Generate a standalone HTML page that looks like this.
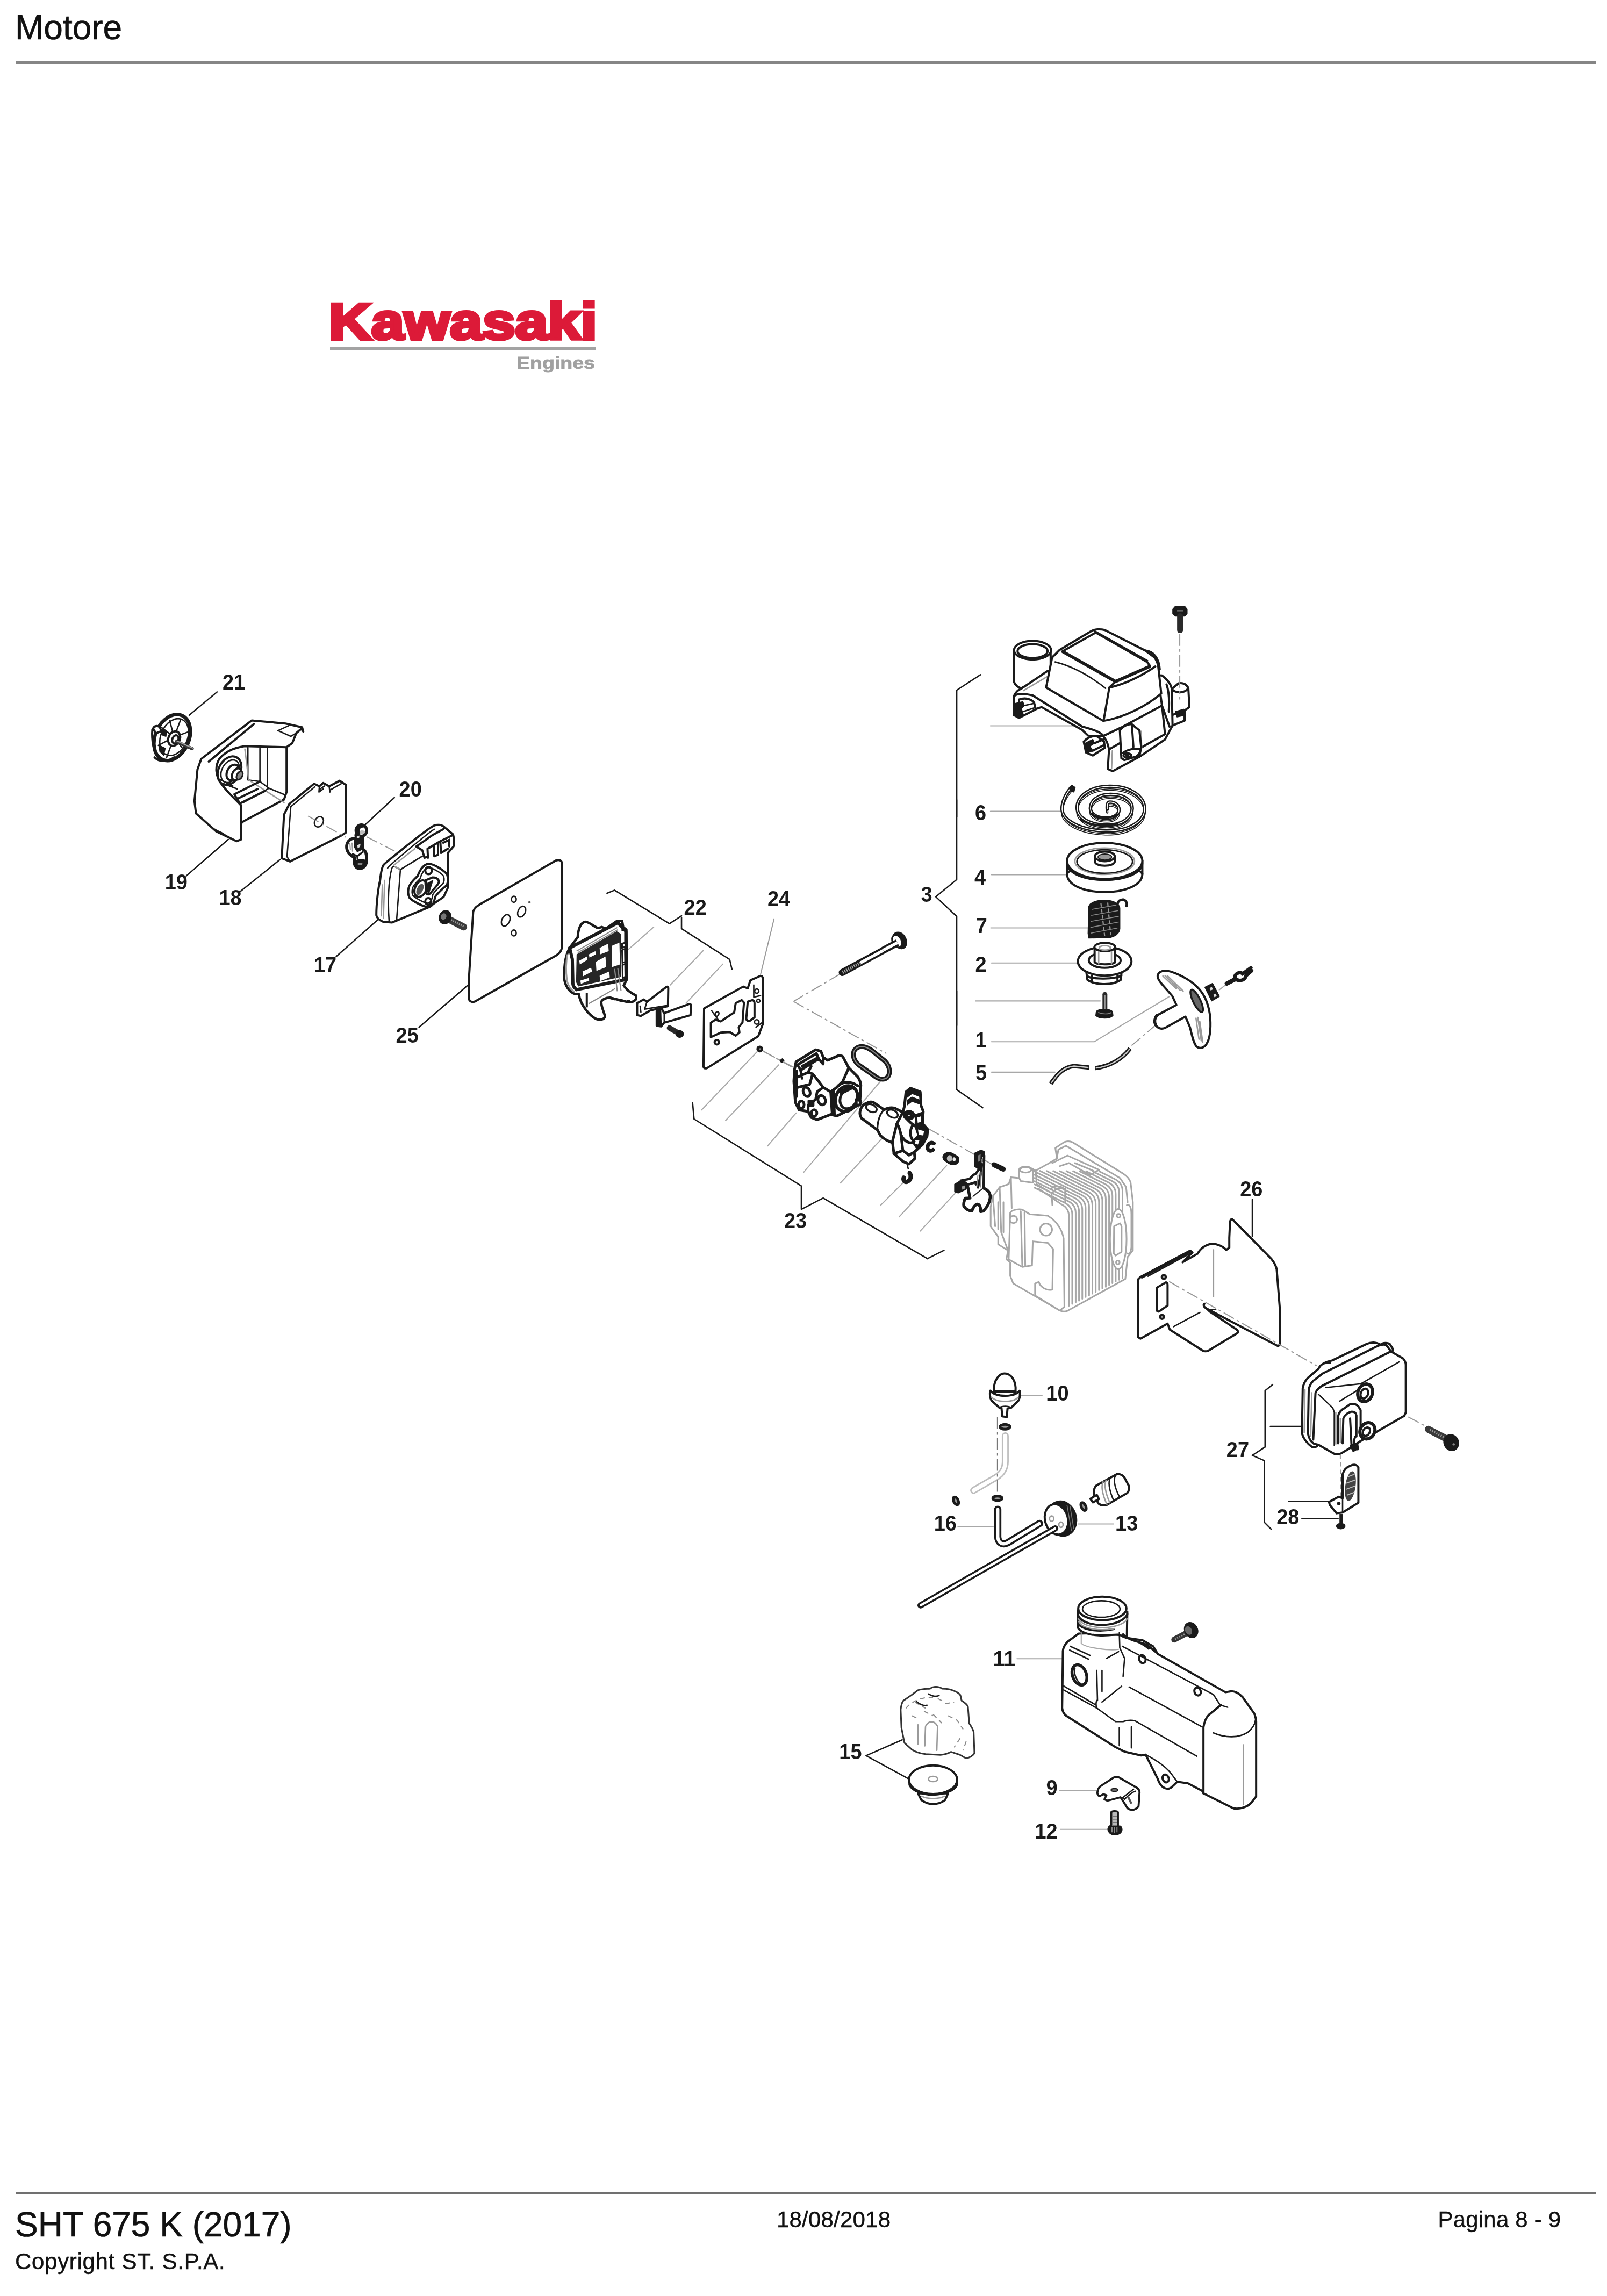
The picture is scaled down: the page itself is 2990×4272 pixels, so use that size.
<!DOCTYPE html>
<html><head><meta charset="utf-8">
<style>
html,body{margin:0;padding:0;background:#fff;}
body{width:2990px;height:4272px;position:relative;overflow:hidden;font-family:"Liberation Sans",sans-serif;color:#111;}
.t{position:absolute;white-space:nowrap;line-height:1;filter:blur(0.5px);}
svg{position:absolute;left:0;top:0;filter:blur(0.7px);}
svg text{font-family:"Liberation Sans",sans-serif;}
.k,.kf,.n,.g,.gl,.d,.b,.w{vector-effect:non-scaling-stroke;}
.k{fill:none;stroke:#1a1a1a;stroke-width:4;stroke-linecap:round;stroke-linejoin:round;}
.kf{fill:#fff;stroke:#1a1a1a;stroke-width:4;stroke-linecap:round;stroke-linejoin:round;}
.n{fill:none;stroke:#1a1a1a;stroke-width:2.6;stroke-linecap:round;stroke-linejoin:round;}
.g{fill:none;stroke:#9a9a9a;stroke-width:2.6;stroke-linecap:round;stroke-linejoin:round;}
.gl{fill:none;stroke:#a8a8a8;stroke-width:2.1;stroke-linecap:round;stroke-linejoin:round;}
.d{fill:none;stroke:#979797;stroke-width:2;stroke-dasharray:22 6 5 6;}
.hv .k,.hv .kf{stroke-width:5;}.hv .n{stroke-width:3.4;}
.b{fill:#1a1a1a;stroke:#1a1a1a;stroke-width:2;stroke-linejoin:round;}
.lb{font-size:40px;font-weight:bold;fill:#1a1a1a;}
</style></head><body>
<div class="t" style="left:28px;top:19px;font-size:64px;-webkit-text-stroke:0.7px #111;">Motore</div>
<div style="position:absolute;left:29px;top:114px;width:2939.5px;height:5px;background:#858585;"></div>
<div style="position:absolute;left:29px;top:4079.2px;width:2939.5px;height:2.6px;background:#707070;"></div>
<div class="t" style="left:28px;top:4107px;font-size:64px;-webkit-text-stroke:0.7px #111;">SHT 675 K (2017)</div>
<div class="t" style="left:28px;top:4187px;font-size:42px;letter-spacing:0.7px;-webkit-text-stroke:0.5px #111;">Copyright ST. S.P.A.</div>
<div class="t" style="left:1445px;top:4109.2px;font-size:42px;letter-spacing:0.2px;-webkit-text-stroke:0.5px #111;">18/08/2018</div>
<div class="t" style="left:2675.5px;top:4109px;font-size:42px;letter-spacing:0.2px;-webkit-text-stroke:0.5px #111;">Pagina 8 - 9</div>
<svg width="2990" height="4272" viewBox="0 0 2990 4272">
<!--LOGO-->
<g>
<text x="612" y="631" font-size="94" font-weight="bold" fill="#dc1a38" stroke="#dc1a38" stroke-width="6" stroke-linejoin="miter" textLength="499" lengthAdjust="spacingAndGlyphs">Kawasaki</text>
<rect x="614" y="646" width="494" height="6" fill="#a3a3a3"/>
<text x="961" y="685.5" font-size="31.5" font-weight="bold" fill="#a0a0a0" stroke="#a0a0a0" stroke-width="0.8" textLength="146" lengthAdjust="spacingAndGlyphs">Engines</text>
</g>
<!--G1-->
<g transform="translate(240 1230) scale(0.28003)">
<!-- 21 leader -->
<path class="n" d="M585 205 L400 360"/>
<!-- 21 knob -->
<ellipse cx="287" cy="508" rx="112" ry="160" transform="rotate(24 287 508)" fill="#fff" stroke="#1a1a1a" stroke-width="6.5" vector-effect="non-scaling-stroke"/>
<path class="k" d="M155 455 C150 520 160 600 200 650 M170 640 C200 670 250 675 300 640"/>
<ellipse cx="300" cy="505" rx="88" ry="128" transform="rotate(24 300 505)" class="n"/>
<path class="n" d="M300 505 L345 385 M300 505 L395 470 M300 505 L370 600 M300 505 L250 640 M300 505 L195 560 M300 505 L215 440 M300 505 L270 395"/>
<path class="b" d="M215 455 L250 470 L245 500 L220 490 Z M200 560 L240 580 L230 625 L205 600 Z"/>
<ellipse cx="300" cy="515" rx="38" ry="50" transform="rotate(24 300 515)" class="kf"/>
<ellipse cx="308" cy="520" rx="20" ry="28" transform="rotate(24 308 520)" class="kf"/>
<path d="M315 535 L420 582" stroke="#333" stroke-width="6" stroke-linecap="round" fill="none" vector-effect="non-scaling-stroke"/>
<path d="M318 531 L422 578" stroke="#aaa" stroke-width="2" stroke-linecap="round" fill="none" vector-effect="non-scaling-stroke"/>
<path class="kf" d="M160 450 C165 430 190 425 205 440 L215 465 L180 480 Z"/>
<!-- 19 cover -->
<path class="kf" d="M480 650 L815 395 L1040 415 L1150 440 L1158 468 L1145 450 L1112 478 L1085 545 L1047 572 L1047 870 L1030 920 L760 1065 L745 1078 L745 1185 L715 1197 L640 1160 L580 1132 L445 1012 L435 930 L455 720 Z"/>
<path class="k" d="M1047 572 L770 565 C700 575 640 600 600 650 C570 700 575 760 610 810 C650 870 710 920 745 960 L745 1078"/>
<path class="k" d="M530 668 L830 418"/>
<path class="n" d="M990 462 L1060 430 M990 462 L1075 500 M1075 500 L1112 478"/>
<path class="k" d="M570 1120 C590 1135 620 1140 640 1160"/>
<path class="n" d="M790 575 L790 790 M870 580 L870 800 M920 580 L920 830 M790 790 L870 800 L930 845 L1040 890"/>
<path class="g" d="M770 585 L795 790 M795 790 L1030 940"/>
<path class="k" d="M700 885 L870 800 M720 915 L855 850 M740 945 L905 862 M700 885 L745 960"/>
<path class="n" d="M930 845 L760 940"/>
<ellipse cx="668" cy="728" rx="72" ry="100" transform="rotate(28 668 728)" class="k"/>
<ellipse cx="672" cy="732" rx="55" ry="80" transform="rotate(28 672 732)" class="n"/>
<ellipse cx="690" cy="740" rx="38" ry="55" transform="rotate(28 690 740)" class="k"/>
<ellipse cx="715" cy="752" rx="28" ry="42" transform="rotate(28 715 752)" class="kf"/>
<ellipse cx="735" cy="760" rx="18" ry="30" transform="rotate(28 735 760)" fill="#888" stroke="#1a1a1a" stroke-width="3" vector-effect="non-scaling-stroke"/>
<path class="n" d="M610 790 L690 830 M630 815 L720 850"/>
<!-- 19 leader -->
<path class="n" d="M660 1185 L380 1428"/>
<!-- 18 filter -->
<path class="kf" d="M1065 950 L1230 815 L1265 832 L1290 810 L1330 832 L1400 795 L1440 822 L1440 1140 L1410 1160 L1070 1332 L1015 1310 L1030 1020 Z"/>
<path class="n" d="M1075 968 L1050 1300 L1070 1332 M1075 968 L1235 835 M1270 850 L1300 830 M1340 855 L1410 815 M1265 832 L1262 870 L1290 850 M1330 832 L1335 870"/>
<ellipse cx="1262" cy="1068" rx="28" ry="36" transform="rotate(30 1262 1068)" class="n"/>
<path class="d" d="M1190 1030 L1440 1170" />
<path class="n" d="M1005 1318 L737 1533"/>
</g>
<g transform="translate(640 1400) scale(0.28003)">
<!-- 20 leader -->
<path class="n" d="M335 300 L130 490"/>
<path class="d" d="M150 560 L335 655"/>
<!-- 20 clip -->
<g transform="translate(0 357.1) scale(0.35553)">
<path d="M215 600 C100 600 40 680 50 780 C60 880 150 940 200 960 L195 1040 C190 1120 240 1170 300 1165 C380 1160 430 1080 420 1000 C430 900 400 830 350 800 L350 600 Z" fill="#fff" stroke="#1a1a1a" stroke-width="5.5" stroke-linejoin="round" vector-effect="non-scaling-stroke"/>
<ellipse cx="325" cy="455" rx="100" ry="105" fill="#fff" stroke="#1a1a1a" stroke-width="5.5" vector-effect="non-scaling-stroke"/>
<path class="b" d="M235 420 C250 370 330 340 400 390 C360 380 300 390 280 440 L290 520 L240 560 L215 620 L205 540 Z"/>
<path d="M290 470 C320 440 380 450 400 480 C390 520 340 540 300 520 Z" fill="#bbb"/>
<path class="b" d="M200 630 L345 600 L350 800 L250 850 L200 770 Z"/>
<path d="M250 730 L310 700 L300 760 L255 785 Z M240 560 L290 550 L285 590 L240 600 Z" fill="#ddd"/>
<path d="M110 690 L120 820 M150 680 L160 850" stroke="#999" stroke-width="2" fill="none" vector-effect="non-scaling-stroke"/>
<path d="M150 890 L250 935 L360 850 M250 935 L255 1000" fill="none" stroke="#1a1a1a" stroke-width="3.5" vector-effect="non-scaling-stroke"/>
<path class="b" d="M215 1040 C230 1000 330 980 395 1010 C410 1090 370 1150 300 1155 C240 1150 205 1100 215 1040 Z"/>
<path d="M250 1080 C270 1050 330 1050 350 1075 C340 1110 280 1120 250 1080 Z" fill="#888"/>
</g>
<!-- 17 air box -->
<path class="kf" d="M265 745 C280 730 560 500 600 485 C620 478 645 480 660 490 L725 545 C732 570 732 600 728 625 L690 668 L690 900 L662 960 L560 1030 L320 1130 L262 1126 C235 1115 218 1100 215 1082 C215 1000 228 900 240 850 C245 800 252 760 265 745 Z"/>
<path class="n" d="M290 768 C300 750 570 525 600 510 M300 1122 C290 1000 295 850 318 770 C322 760 330 755 340 760 L375 778 L350 1110"/>
<path class="g" d="M255 880 L248 1085 M270 850 L262 1100"/>
<path class="g" d="M340 760 L375 778 L520 690 M330 750 L470 640"/>
<path class="n" d="M375 778 L520 690"/>
<path class="k" d="M480 625 L590 548 L660 510 M480 625 L520 650 L535 700 L560 690 M555 640 L640 590 L725 548 M555 640 L558 700 M598 618 L600 690 L625 680 L625 605 M640 590 L645 668 L690 640 M660 600 L700 580 L700 625"/>
<path class="k" d="M430 900 C435 870 470 840 490 820 C505 780 525 745 560 740 C600 738 670 790 685 810 C695 840 692 870 680 885 C650 910 620 940 605 960 C600 1000 585 1025 560 1028 C530 1028 450 985 435 965 C425 945 425 920 430 900 Z"/>
<path class="n" d="M455 905 C460 880 490 855 505 840 C515 805 535 770 562 765 C590 765 650 805 662 822 C668 845 665 865 655 875 C630 898 600 925 590 945 C585 980 575 1000 558 1002 C535 1002 470 965 458 950 C450 935 452 918 455 905 Z"/>
<ellipse cx="562" cy="785" rx="22" ry="24" class="k"/>
<ellipse cx="560" cy="990" rx="20" ry="22" class="k"/>
<ellipse cx="510" cy="905" rx="38" ry="58" transform="rotate(25 510 905)" class="k"/>
<ellipse cx="505" cy="910" rx="20" ry="40" transform="rotate(25 505 910)" fill="#555"/>
<path class="k" d="M540 850 L590 830 C620 830 640 850 625 875 L575 935 C560 950 540 945 545 920 Z"/>
<path class="b" d="M560 870 L590 850 L565 930 L550 925 Z"/>
<!-- screw -->
<path d="M690 1105 L795 1160" stroke="#3a3a3a" stroke-width="13" stroke-linecap="round" fill="none" vector-effect="non-scaling-stroke"/>
<path d="M700 1106 L795 1156" stroke="#999" stroke-width="3" stroke-dasharray="2 2" fill="none" vector-effect="non-scaling-stroke"/>
<ellipse cx="672" cy="1095" rx="38" ry="45" transform="rotate(20 672 1095)" class="b"/>
<ellipse cx="662" cy="1090" rx="18" ry="22" transform="rotate(20 662 1090)" fill="#777"/>
<!-- 17 leader -->
<path class="n" d="M225 1112 L-51 1355"/>
</g>
<!-- plate 25 -->
<g transform="translate(200 1200) scale(0.56005)">
<path class="kf" d="M1215 885 C1220 872 1228 868 1240 860 L1490 716 C1502 712 1510 716 1510 728 L1510 1000 C1510 1015 1502 1025 1490 1032 L1222 1184 C1208 1190 1200 1182 1200 1170 L1200 1120 Z"/>
<ellipse cx="1350" cy="845" rx="8" ry="10" class="n"/>
<ellipse cx="1376" cy="886" rx="12" ry="19" transform="rotate(25 1376 886)" class="n"/>
<ellipse cx="1323" cy="915" rx="13" ry="20" transform="rotate(25 1323 915)" class="n"/>
<ellipse cx="1350" cy="957" rx="8" ry="10" class="n"/>
<circle cx="1402" cy="855" r="4" fill="#555"/>
<path class="n" d="M1200 1128 L1035 1270"/>
</g>
<g transform="translate(1030 1620) scale(0.28003)">
<!-- bracket 22 -->
<path class="n" d="M355 150 L405 130 L770 352 L850 300 M850 310 L850 385 L1170 590 L1185 655"/>
<path class="gl" d="M665 375 L495 525 M995 530 L775 760 M1125 620 L880 880"/>
<path class="g" d="M1465 320 L1375 690" style="stroke-width:2"/>
<g transform="translate(35.7 285.7) scale(0.35553)"><!-- reed body -->
<path d="M350 440 C360 300 400 170 490 150 C560 150 650 240 730 270 L800 250 L880 280 L1080 140 L1180 135 L1200 250 L1260 300 L1270 1230 L1210 1340 C1260 1430 1380 1500 1440 1530 L1440 1600 C1400 1650 1330 1660 1280 1650 L950 1570 C880 1570 810 1600 790 1650 C790 1750 850 1850 860 1920 C840 1990 760 1990 700 1970 C560 1900 400 1700 370 1500 L300 1500 C230 1480 130 1400 100 1230 C90 1000 110 800 200 640 Z" fill="#fff" stroke="#1a1a1a" stroke-width="4.6" stroke-linejoin="round" vector-effect="non-scaling-stroke"/>
<path d="M200 640 L1100 170 L1180 250 L1250 330 L1250 1230 L330 1420 C280 1380 260 1340 260 1300 L250 850 Z" fill="#fff" stroke="#1a1a1a" stroke-width="6" stroke-linejoin="round" vector-effect="non-scaling-stroke"/>
<path d="M160 760 C130 900 130 1100 150 1250 C170 1350 230 1430 290 1460" fill="none" stroke="#999" stroke-width="3" vector-effect="non-scaling-stroke"/>
<path d="M330 760 L1080 330 L1160 380 L1165 1180 L360 1360 L320 1280 Z" fill="#262626"/>
<path d="M330 700 L1090 260 M350 730 L1100 300" fill="none" stroke="#888" stroke-width="2" vector-effect="non-scaling-stroke"/>
<path d="M760 640 L920 560 L930 700 L770 760 Z M990 600 L1130 540 L1140 950 L990 1000 Z M690 900 L870 800 L880 1000 L700 1070 Z M440 1080 L600 1010 L620 1080 L450 1170 Z M760 1160 L940 1080 L950 1190 L770 1260 Z M380 880 L520 800 L530 860 L390 950 Z M560 760 L680 700 L690 760 L570 820 Z M400 1250 L560 1200 L565 1250 L410 1310 Z" fill="#fff"/>
<path d="M1180 560 L1240 540 L1240 620 L1180 640 Z M1180 680 L1232 660 L1236 900 L1186 920 Z M1186 960 L1236 940 L1240 1180 L1190 1200 Z" fill="#fff" stroke="#1a1a1a" stroke-width="3" vector-effect="non-scaling-stroke"/>
<path d="M520 1480 L520 1750 M1180 135 L1190 330" fill="none" stroke="#1a1a1a" stroke-width="4" vector-effect="non-scaling-stroke"/>
<path d="M560 1680 L1050 1400 M1040 1030 L1090 1450 M1100 1020 L1160 1440" fill="none" stroke="#888" stroke-width="2.2" vector-effect="non-scaling-stroke"/>
<path d="M950 1570 C1050 1600 1250 1650 1330 1640" fill="none" stroke="#1a1a1a" stroke-width="5" stroke-dasharray="10 6" vector-effect="non-scaling-stroke"/>
</g><!-- petals -->
<path class="kf" d="M555 880 L600 855 L620 872 L750 772 C758 768 762 772 762 780 L760 900 L640 930 L580 965 L555 960 Z"/>
<path class="n" d="M575 900 L580 940 M620 872 L605 920 L760 895"/>
<path class="kf" d="M685 930 L720 920 L735 947 L900 886 C908 884 912 888 912 895 L910 960 L735 1010 L715 1035 L685 1030 Z"/>
<path class="b" d="M685 930 L712 925 L715 1035 L685 1030 Z"/>
<path class="n" d="M735 947 L735 1010"/>
<!-- screw -->
<path d="M770 1045 L835 1082" stroke="#2a2a2a" stroke-width="10" stroke-linecap="round" fill="none" vector-effect="non-scaling-stroke"/>
<ellipse cx="838" cy="1085" rx="24" ry="22" class="b"/>
<!-- gasket 24 -->
<path class="kf" d="M1000 915 L1260 770 L1290 782 L1308 728 L1372 700 C1385 698 1390 705 1390 718 L1390 1020 L1360 1100 L1022 1310 C1005 1318 996 1312 996 1298 Z"/>
<path class="k" d="M1045 1010 L1075 990 L1110 1002 L1200 942 L1210 880 L1250 860 L1265 876 L1255 1010 L1230 1040 L1235 1075 L1210 1096 L1170 1072 L1110 1076 L1045 1106 Z"/>
<path class="k" d="M1290 870 L1320 860 C1330 862 1335 870 1335 880 L1335 975 L1300 1000 C1288 998 1282 992 1280 985 Z"/>
<path class="n" d="M1330 760 L1330 840 L1375 830 M1345 1040 L1385 1010"/>
<circle cx="1350" cy="800" r="14" class="n"/><circle cx="1360" cy="865" r="11" class="n"/><circle cx="1350" cy="1005" r="15" class="n"/><circle cx="1085" cy="1140" r="15" class="k"/>
<path class="n" d="M1050 930 L1100 1000 M1075 945 C1090 930 1105 940 1095 960 C1085 975 1070 965 1075 945"/>
<!-- nut + small -->
<circle cx="1370" cy="1185" r="19" class="b"/><circle cx="1372" cy="1186" r="7" fill="#888"/>
<path class="gl" d="M1350 1205 L983 1590"/>
<path class="d" d="M1392 1198 L1607 1318"/>
<path class="b" d="M1505 1262 L1520 1250 L1530 1262 L1515 1275 Z"/>
</g>
<g transform="translate(1400 1900) scale(0.28003)">
<path class="gl" d="M290 610 L100 830 M850 400 L340 1005 M860 780 L585 1075 M1000 1075 L850 1225 M1290 960 L975 1300 M1345 1145 L1115 1395 M175 290 L-178 660"/>
<path class="d" d="M80 205 L285 312"/>
<path class="d" d="M273 -131 L890 215"/>
<path class="d" d="M1170 715 L1607 960"/>
<!-- bracket 23 -->
<path class="n" d="M-398 540 L-388 650 L325 1095 L325 1250 L470 1175 L1163 1578"/>
<!-- oring -->
<path d="M690 180 C720 160 760 168 800 200 L880 265 C915 300 920 350 895 375 C870 395 835 385 805 360 L705 290 C665 255 660 205 690 180 Z" fill="none" stroke="#1a1a1a" stroke-width="9" vector-effect="non-scaling-stroke"/>
<path d="M690 180 C720 160 760 168 800 200 L880 265 C915 300 920 350 895 375 C870 395 835 385 805 360 L705 290 C665 255 660 205 690 180 Z" fill="none" stroke="#888" stroke-width="2" vector-effect="non-scaling-stroke"/>
<g class="hv"><!-- carb body -->
<path class="kf" d="M280 320 L290 270 L420 190 L455 200 L470 240 L500 260 L570 230 C585 228 595 230 600 235 L640 310 L700 370 C715 395 722 415 720 430 L715 520 L700 560 L560 630 L520 620 L430 655 L390 640 L370 600 L310 590 L285 540 L275 400 Z"/>
<path class="k" d="M300 290 L425 215 L440 250 L320 325 L300 290 M320 325 L330 380 M440 250 L470 285 L470 240 M330 300 L430 245 M280 380 L370 340 L400 350 L440 400 L470 440 L520 470 L530 610 M370 340 L390 300 M400 350 L380 420 L300 440 M470 440 L430 470 L420 520 L370 560 L370 600 M520 470 L560 440 L600 400 L640 310"/>
<path class="b" d="M285 330 L300 325 L300 500 L285 520 Z M520 470 L545 460 L550 620 L525 615 Z"/>
<ellipse cx="360" cy="470" rx="22" ry="32" transform="rotate(-20 360 470)" class="k"/>
<ellipse cx="460" cy="525" rx="24" ry="32" transform="rotate(-20 460 525)" class="k"/>
<ellipse cx="325" cy="555" rx="18" ry="25" class="k"/>
<ellipse cx="410" cy="610" rx="18" ry="22" class="k"/>
<rect x="375" y="530" width="28" height="30" class="k"/>
<ellipse cx="625" cy="515" rx="72" ry="88" transform="rotate(25 625 515)" fill="#fff" stroke="#1a1a1a" stroke-width="6" vector-effect="non-scaling-stroke"/>
<ellipse cx="640" cy="512" rx="55" ry="72" transform="rotate(25 640 512)" class="k"/>
<path class="k" d="M560 440 C590 400 650 395 700 430 M580 470 L660 430 M590 480 L670 440"/>
<path class="kf" d="M690 520 L720 530 L715 555 L690 560 Z"/>
<!-- intake pipe -->
<path class="kf" d="M715 600 C720 570 740 550 760 545 C775 535 795 535 805 540 L875 588 C900 575 925 572 945 578 L1000 605 L940 810 C900 800 870 780 850 760 L830 722 L725 645 C715 630 712 615 715 600 Z"/>
<ellipse cx="790" cy="578" rx="38" ry="24" transform="rotate(25 790 578)" class="n"/>
<ellipse cx="930" cy="615" rx="38" ry="24" transform="rotate(25 930 615)" class="n"/>
<path class="n" d="M875 588 C850 610 830 660 830 722"/>
<!-- carb 2 body -->
<path class="kf" d="M1010 565 L1020 470 L1050 445 L1115 470 L1120 560 L1135 600 L1130 680 L1165 720 L1160 765 L1130 820 L1075 870 L1080 912 L1040 950 L1000 932 L940 880 L930 800 L960 680 L1000 605 Z"/>
<path class="b" d="M1025 475 L1052 452 L1110 474 L1112 500 L1060 480 L1028 505 Z M1030 525 L1060 505 L1110 525 L1112 550 L1060 532 L1030 555 Z M1085 620 L1130 605 L1128 680 L1160 722 L1155 765 L1128 815 L1090 845 L1060 800 L1100 760 L1080 700 Z"/>
<path d="M1095 640 L1120 632 L1118 670 L1098 675 Z M1100 720 L1140 730 L1135 760 L1105 755 Z M1075 790 L1110 790 L1100 820 L1080 815 Z" fill="#fff"/>
<ellipse cx="1040" cy="625" rx="32" ry="26" class="k"/>
<ellipse cx="1040" cy="625" rx="16" ry="12" class="k"/>
<path class="k" d="M1000 605 C1020 660 1070 690 1085 700 M960 680 C990 720 990 800 1000 860 L1040 890 L1075 870 M1000 860 L940 880 M990 760 C1010 800 1050 820 1075 800 M1060 700 C1040 740 1050 780 1075 800"/>
</g><!-- cclip -->
<path d="M1205 812 C1185 800 1165 815 1163 838 C1163 860 1185 868 1200 855" fill="none" stroke="#1a1a1a" stroke-width="7" stroke-linecap="round" vector-effect="non-scaling-stroke"/>
<!-- bushing -->
<path class="b" d="M1270 890 C1285 870 1310 868 1330 880 L1365 900 C1375 915 1372 935 1360 945 C1345 958 1320 955 1305 945 L1275 925 C1265 915 1263 900 1270 890 Z"/>
<ellipse cx="1310" cy="912" rx="18" ry="22" fill="#bbb"/>
<ellipse cx="1340" cy="918" rx="10" ry="14" fill="#eee"/>
<!-- hook -->
<path d="M1045 1010 C1058 1030 1052 1060 1025 1068 C1010 1070 1000 1055 1005 1040" fill="none" stroke="#1a1a1a" stroke-width="8" stroke-linecap="round" vector-effect="non-scaling-stroke"/>
<path class="n" d="M1030 960 L1040 1000" style="stroke-dasharray:6 5"/>
<!-- bracket 3 tail -->
<path class="n" d="M1357 -200 L1357 455 L1530 575"/>
</g>
<!--G2-->
<g transform="translate(1450 1600) scale(0.28003)">
<path class="d" d="M400 760 L95 940"/>
<!-- bolt -->
<path d="M418 748 L795 545" stroke="#1a1a1a" stroke-width="13" stroke-linecap="round" fill="none" vector-effect="non-scaling-stroke"/>
<path d="M540 683 L780 553" stroke="#fff" stroke-width="5.5" fill="none" vector-effect="non-scaling-stroke"/>
<path d="M420 747 L540 683" stroke="#aaa" stroke-width="6" stroke-dasharray="2 2" fill="none" vector-effect="non-scaling-stroke"/>
<ellipse cx="800" cy="535" rx="42" ry="58" transform="rotate(-28 800 535)" class="b"/>
<ellipse cx="782" cy="540" rx="30" ry="44" transform="rotate(-28 782 540)" fill="#fff" stroke="#1a1a1a" stroke-width="3" vector-effect="non-scaling-stroke"/>
<path d="M690 600 L785 550" stroke="#1a1a1a" stroke-width="13" fill="none" vector-effect="non-scaling-stroke"/>
<path d="M690 600 L785 550" stroke="#fff" stroke-width="5.5" fill="none" vector-effect="non-scaling-stroke"/>
<!-- bracket 3 mid -->
<path class="n" d="M1178.5 -400 L1178.5 130 L1040 245 L1178.5 375 L1178.5 1100"/>
<path class="gl" d="M1410 98 L1912 98 M1405 452 L2052 452 M1410 685 L1982 685 M1303 937 L2132 937 M1410 1208 L2092 1208 L2592 907 M1410 1410 L1832 1410 M1403 -323 L1882 -323 M1403 -891 L1971 -891"/>
</g>
<g transform="translate(1840 1100) scale(0.28003)">
<!-- bracket 3 top -->
<path class="n" d="M-56 555 L-214 658 L-214 1500"/>
<!-- post -->
<path class="kf" d="M165 395 L165 600 C175 625 195 640 215 645 L410 540 L410 400 Z"/>
<ellipse cx="290" cy="392" rx="123" ry="62" class="kf"/>
<ellipse cx="290" cy="398" rx="100" ry="46" class="k"/>
<!-- base -->
<path class="kf" d="M165 700 C175 675 195 655 215 648 L390 530 L1150 560 C1190 590 1210 620 1215 650 L1260 612 C1290 605 1315 620 1325 645 L1332 770 L1300 792 L1300 860 L1220 892 L1170 985 L1000 1100 L822 1196 L790 1182 L798 1050 C790 1010 775 980 758 962 L660 960 L620 922 L350 770 L320 780 L200 842 L165 822 Z"/>
<path class="k" d="M175 692 C190 680 240 680 290 692 L620 900 C700 920 750 940 760 962 M200 720 C240 705 280 715 300 740 L310 780 M200 720 L200 840 M760 962 L880 905 L1150 760 M800 1050 L870 1010 M1000 1100 L1010 1040 L1170 950 L1150 760 L1140 690 M1150 760 L1200 900 M1215 650 L1220 892 M1180 620 C1195 660 1200 720 1195 800"/>
<path class="g" d="M230 660 L400 560 M820 1060 L815 1180 M960 900 L965 1040 M1010 930 L1015 1040"/>
<path class="b" d="M178 745 L225 735 L235 760 L215 780 L228 820 L195 838 L172 820 Z"/>
<path class="n" d="M235 760 L300 745 M228 800 L310 772"/>
<!-- middle tab -->
<path class="kf" d="M630 1000 C650 975 690 958 715 962 L765 1000 L770 1040 L690 1092 L645 1072 Z"/>
<path class="b" d="M640 1010 L690 985 L700 1010 L670 1030 L690 1060 L660 1072 L640 1050 Z"/>
<path class="k" d="M700 1010 L760 985 M690 1060 L765 1022"/>
<!-- front boss -->
<path class="kf" d="M870 925 C890 895 930 880 950 885 L1000 925 L1012 1040 C1005 1075 990 1095 975 1100 L900 1122 L880 1110 Z"/>
<path class="k" d="M950 885 L960 1035 M890 1075 C920 1050 980 1040 1010 1050"/>
<ellipse cx="920" cy="1092" rx="26" ry="14" class="k"/><ellipse cx="920" cy="1092" rx="10" ry="6" class="b"/>
<!-- right boss -->
<path class="k" d="M1215 650 C1240 680 1300 680 1325 645 M1300 792 L1225 820"/>
<path class="b" d="M1240 800 L1295 785 L1298 825 L1250 835 Z"/>
<!-- top box -->
<path class="kf" d="M420 440 L470 390 L680 265 C700 252 740 250 770 258 L1040 395 L1100 440 C1115 460 1122 480 1125 500 L1145 680 C1050 760 900 840 760 862 L380 640 Z"/>
<path class="k" d="M1040 395 C1090 400 1130 440 1135 520" />
<path d="M488 400 L842 600 L1072 498" fill="none" stroke="#1a1a1a" stroke-width="6" stroke-linejoin="round" vector-effect="non-scaling-stroke"/>
<path class="k" d="M488 400 L710 275 L1050 470 L1072 498 M842 600 L800 640 L762 860 M800 640 C900 620 1020 560 1105 500"/>
<path class="n" d="M440 470 C560 500 680 570 775 645 M700 262 L1055 462"/>
<!-- screw -->
<path class="b" d="M1222 120 L1240 100 L1300 100 L1316 120 L1316 150 L1300 165 L1240 165 L1222 150 Z"/>
<path d="M1250 130 L1290 130" stroke="#999" stroke-width="2" fill="none" vector-effect="non-scaling-stroke"/>
<path d="M1270 165 L1270 258" stroke="#2a2a2a" stroke-width="11" stroke-linecap="round" fill="none" vector-effect="non-scaling-stroke"/>
<path class="d" d="M1268 285 L1268 720"/>
</g>
<g transform="translate(1900 1440) scale(0.28003)">
<!-- spring 6 -->
<g fill="none" stroke="#1a1a1a" stroke-width="4.2" stroke-linecap="round" transform="translate(0 27.7) scale(1 0.93)">
<path vector-effect="non-scaling-stroke" d="M335 88 C300 130 270 190 272 250 C275 320 380 395 560 402 C720 405 820 330 820 245 C820 150 720 82 590 82 C460 82 372 150 372 235 C372 310 460 360 570 360 C680 360 738 300 738 240 C738 180 680 140 595 140 C510 140 460 185 460 240 C460 285 510 310 570 310 C620 310 650 280 650 250 C650 215 620 195 590 195 C575 195 570 210 572 245"/>
</g>
<g fill="none" stroke="#fff" stroke-width="1.2" transform="translate(0 27.7) scale(1 0.93)">
<path vector-effect="non-scaling-stroke" d="M335 88 C300 130 270 190 272 250 C275 320 380 395 560 402 C720 405 820 330 820 245 C820 150 720 82 590 82 C460 82 372 150 372 235 C372 310 460 360 570 360 C680 360 738 300 738 240 C738 180 680 140 595 140 C510 140 460 185 460 240 C460 285 510 310 570 310 C620 310 650 280 650 250 C650 215 620 195 590 195 C575 195 570 210 572 245"/>
</g>
<g fill="none" stroke="#1a1a1a" stroke-width="6.5" stroke-linecap="round" transform="translate(0 5.7) scale(1 0.93)">
<path vector-effect="non-scaling-stroke" d="M335 88 C300 130 270 190 272 250 C275 320 380 395 560 402 C720 405 820 330 820 245 C820 150 720 82 590 82 C460 82 372 150 372 235 C372 310 460 360 570 360 C680 360 738 300 738 240 C738 180 680 140 595 140 C510 140 460 185 460 240 C460 285 510 310 570 310 C620 310 650 280 650 250 C650 215 620 195 590 195 C575 195 570 210 572 245"/>
</g>
<g fill="none" stroke="#fff" stroke-width="1.6" transform="translate(0 5.7) scale(1 0.93)">
<path vector-effect="non-scaling-stroke" d="M335 88 C300 130 270 190 272 250 C275 320 380 395 560 402 C720 405 820 330 820 245 C820 150 720 82 590 82 C460 82 372 150 372 235 C372 310 460 360 570 360 C680 360 738 300 738 240 C738 180 680 140 595 140 C510 140 460 185 460 240 C460 285 510 310 570 310 C620 310 650 280 650 250 C650 215 620 195 590 195 C575 195 570 210 572 245"/>
</g>
<path class="k" d="M395 300 C450 345 560 350 640 330 M470 265 C500 300 580 300 640 270"/>
<path class="b" d="M320 90 L340 78 L358 90 L350 120 L330 115 Z"/>
<!-- pulley 4 -->
<path class="kf" d="M305 665 C305 740 420 785 555 785 C690 785 805 740 805 665 L805 575 L305 575 Z"/>
<path class="kf" d="M305 590 C305 660 420 705 555 705 C690 705 805 660 805 590 Z"/>
<path class="k" d="M305 665 C310 655 325 640 345 635 M805 665 C800 655 785 640 765 635"/>
<ellipse cx="555" cy="578" rx="250" ry="120" class="kf"/>
<ellipse cx="555" cy="580" rx="198" ry="88" class="g"/>
<ellipse cx="555" cy="582" rx="185" ry="78" class="n"/>
<path class="kf" d="M490 548 L490 580 C490 600 520 610 555 610 C590 610 622 600 622 580 L622 548 Z"/>
<ellipse cx="556" cy="548" rx="66" ry="32" class="kf"/>
<ellipse cx="556" cy="552" rx="45" ry="20" fill="#999" stroke="#1a1a1a" stroke-width="2" vector-effect="non-scaling-stroke"/>
<!-- spring 7 -->
<path class="b" d="M450 880 C460 850 520 835 560 840 C610 840 650 860 655 890 L655 1030 C650 1070 600 1095 550 1088 L450 1090 L445 1060 Z"/>
<path d="M470 900 L640 870 M465 940 L645 908 M462 980 L648 946 M460 1020 L648 984 M462 1058 L640 1024" stroke="#8a8a8a" stroke-width="1.6" fill="none" vector-effect="non-scaling-stroke"/><path d="M530 860 L555 1080 M575 855 L595 1075" stroke="#999" stroke-width="2.2" stroke-dasharray="6 5" fill="none" vector-effect="non-scaling-stroke"/>
<path class="k" d="M640 870 C640 845 660 832 680 835 C698 840 705 860 700 878" style="stroke-width:4.5"/>
<!-- part 2 -->
<path class="kf" d="M432 1310 L440 1368 C470 1390 520 1398 555 1396 C600 1396 640 1385 662 1368 L668 1310 Z"/>
<path class="k" d="M470 1340 L470 1380 M640 1335 L640 1378 M440 1345 C480 1365 620 1365 665 1340"/>
<ellipse cx="555" cy="1245" rx="178" ry="95" class="kf"/>
<ellipse cx="555" cy="1238" rx="106" ry="50" class="k"/>
<path class="kf" d="M488 1150 L488 1250 C500 1270 610 1270 625 1250 L625 1150 Z"/>
<ellipse cx="556" cy="1150" rx="69" ry="28" class="kf"/>
<ellipse cx="556" cy="1156" rx="38" ry="15" class="g"/>
<path class="g" d="M515 1180 L515 1262 M600 1180 L600 1262"/>
</g>
<!--G3-->
<g transform="translate(1920 1760) scale(0.28003)">
<!-- screw -->
<path d="M485 322 L485 430" stroke="#2a2a2a" stroke-width="9" stroke-linecap="round" fill="none" vector-effect="non-scaling-stroke"/>
<path d="M485 325 L485 420" stroke="#999" stroke-width="2" fill="none" vector-effect="non-scaling-stroke"/>
<path class="b" d="M428 440 C430 415 530 415 535 440 L538 462 C520 485 445 485 425 462 Z"/>
<path d="M440 442 C470 455 510 455 528 442" stroke="#888" stroke-width="1.6" fill="none" vector-effect="non-scaling-stroke"/>
<!-- rope -->
<path d="M125 915 C170 850 210 805 280 798 L380 808 M420 812 C520 800 600 750 652 682" fill="none" stroke="#1a1a1a" stroke-width="8" vector-effect="non-scaling-stroke"/>
<path d="M129 910 C170 850 210 805 280 798 L376 808 M424 812 C520 800 600 750 649 686" fill="none" stroke="#ccc" stroke-width="2.4" vector-effect="non-scaling-stroke"/>
<path class="d" d="M662 662 L812 535"/>
<!-- handle -->
<path class="kf" d="M835 200 C838 168 880 158 920 170 C1000 195 1070 240 1110 285 C1150 330 1178 400 1185 480 C1190 560 1180 620 1160 652 C1145 678 1115 685 1095 670 C1075 650 1062 590 1050 540 L1020 470 L885 545 C860 555 835 548 822 525 C812 505 815 480 830 462 L960 392 L932 332 L862 252 C845 232 835 215 835 200 Z"/>
<path class="k" d="M822 525 C812 505 815 480 830 462" style="stroke-width:5.5"/>
<ellipse cx="1095" cy="365" rx="24" ry="82" transform="rotate(-26 1095 365)" fill="#666" stroke="#1a1a1a" stroke-width="3.5" vector-effect="non-scaling-stroke"/>
<path class="g" d="M870 200 L960 285 M885 198 L985 295 M900 198 L1005 300 M1090 480 L1110 620 M1102 475 L1125 630 M1115 500 L1135 640"/>
<!-- clip -->
<path class="b" d="M1150 275 L1200 250 L1245 335 L1195 365 Z"/>
<path d="M1180 280 L1195 272 L1203 288 L1188 296 Z M1205 325 L1220 317 L1228 333 L1213 341 Z" fill="#ddd"/>
<path class="gl" d="M1245 292 L1292 255"/>
<!-- cotter -->
<path d="M1295 250 L1350 222" stroke="#1a1a1a" stroke-width="8" stroke-linecap="round" fill="none" vector-effect="non-scaling-stroke"/>
<path d="M1350 215 C1340 190 1380 165 1400 185 L1455 145 M1350 215 C1370 240 1420 230 1420 200 L1460 165" fill="none" stroke="#1a1a1a" stroke-width="6.5" stroke-linecap="round" vector-effect="non-scaling-stroke"/>
</g>
<g transform="translate(1720 2080) scale(0.28003)">


<path class="n" d="M20 935 L130 880"/>
<!-- cylinder (light) -->
<g fill="#fff" stroke="#a6a6a6" stroke-width="3" stroke-linejoin="round" stroke-linecap="round">
<path vector-effect="non-scaling-stroke" d="M870 200 L930 160 C950 152 970 155 985 162 L1320 370 C1350 390 1365 410 1370 430 L1385 560 L1385 880 L1350 925 L1335 1070 L950 1282 C930 1290 915 1288 900 1280 L590 1100 L570 1050 L570 960 L545 940 L555 880 L490 840 L490 790 L440 720 L440 590 L455 520 L500 460 L560 440 L575 395 L630 400 L630 340 C640 322 690 318 710 335 L740 350 L830 300 L880 270 Z"/>
<path vector-effect="non-scaling-stroke" fill="none" d="M880 270 L890 210 L940 185 L1300 400 L1340 460 L1350 560 M740 350 L745 440 L845 500 L850 580 M630 400 L640 420 L720 430 L720 340 M845 500 L880 470 L935 470 L935 560 M845 470 C850 455 900 450 920 465"/>
<ellipse vector-effect="non-scaling-stroke" cx="672" cy="345" rx="38" ry="18"/>
<path vector-effect="non-scaling-stroke" fill="none" d="M850 300 L950 250 L1160 345 L1100 380 L960 300 L900 320 M1000 300 L1120 350"/>
<path vector-effect="non-scaling-stroke" fill="none" d="M760 471 L910 574 Q960 599 960 654 L960 1248 M732 464 L932 564 Q982 589 982 644 L982 1236 M732 442 L955 553 Q1005 578 1005 633 L1005 1225 M732 421 L977 543 Q1027 568 1027 623 L1027 1214 M732 399 L999 532 Q1049 557 1049 612 L1049 1202 M732 378 L1021 522 Q1071 547 1071 602 L1071 1190 M732 356 L1044 512 Q1094 537 1094 592 L1094 1179 M768 352 L1066 501 Q1116 526 1116 581 L1116 1168 M812 353 L1088 491 Q1138 516 1138 571 L1138 1156 M856 353 L1110 480 Q1160 505 1160 560 L1160 1144 M900 354 L1132 470 Q1182 495 1182 550 L1182 1133 M944 354 L1155 460 Q1205 485 1205 540 L1205 1122 M988 354 L1177 449 Q1227 474 1227 529 L1227 1110 M1032 355 L1199 439 Q1249 464 1249 519 L1249 1098 M1075 355 L1221 428 Q1271 453 1271 508 L1271 1087 M1119 356 L1244 418 Q1294 443 1294 498 L1294 1076 M1163 356 L1266 407 Q1316 432 1316 487 L1316 1064 "/>
<path vector-effect="non-scaling-stroke" d="M570 630 C580 610 640 600 660 615 L700 640 L820 650 C870 680 910 730 925 800 L930 1255 L900 1280 L735 1180 L735 1100 L760 1090 C770 1130 820 1150 850 1140 L855 870 L820 830 L720 820 L715 980 L650 990 L560 940 Z"/>
<path vector-effect="non-scaling-stroke" fill="none" d="M575 395 L580 600 M500 460 L510 760 L555 880 M455 520 L470 720 M640 620 L650 985 M665 625 L670 985 M490 560 L490 740 M525 560 L525 760"/>
<circle vector-effect="non-scaling-stroke" cx="592" cy="675" r="24"/>
<circle vector-effect="non-scaling-stroke" cx="808" cy="742" r="40"/>
<ellipse vector-effect="non-scaling-stroke" cx="1288" cy="805" rx="55" ry="200"/>
<path vector-effect="non-scaling-stroke" d="M1260 720 L1300 700 L1310 720 L1310 890 L1270 915 L1258 900 Z"/>
<circle vector-effect="non-scaling-stroke" cx="1290" cy="650" r="12"/><circle vector-effect="non-scaling-stroke" cx="1285" cy="960" r="12"/>
<path vector-effect="non-scaling-stroke" fill="none" d="M1345 580 C1365 570 1375 600 1375 640 L1375 860 C1370 900 1360 910 1350 900"/>
</g>
<!-- lever bracket -->
<g transform="translate(71.4 107.1) scale(0.35553)">
<path class="b" d="M735 360 L860 300 L915 330 L915 400 L875 425 L870 560 L835 640 L790 640 L735 600 Z"/>
<path d="M800 400 L850 380 L845 500 L800 520 Z M860 470 L900 450 L895 520 L860 540 Z" fill="#777"/>
<path d="M915 400 L905 1010 M870 560 L850 760 L800 1000 M835 640 L760 740 L720 760 L640 840 L480 870 M760 940 L830 880 M560 960 L760 900" fill="none" stroke="#1a1a1a" stroke-width="4.5" stroke-linejoin="round" stroke-linecap="round" vector-effect="non-scaling-stroke"/>
<path d="M860 700 L850 1000 M800 760 L780 980" fill="none" stroke="#888" stroke-width="2" vector-effect="non-scaling-stroke"/>
<path class="b" d="M365 940 L480 870 L580 900 L600 990 L560 1040 L430 1100 L365 1080 Z"/>
<path d="M500 980 L560 960 L555 1020 L505 1040 Z" fill="#999"/>
<path d="M610 990 L650 1195 L560 1200 C540 1250 525 1300 535 1345 C560 1400 640 1440 685 1440 C700 1400 720 1340 780 1312 C830 1310 850 1360 852 1450 L900 1440 C960 1380 1020 1280 1030 1180 C1030 1100 980 1040 900 1010" fill="none" stroke="#1a1a1a" stroke-width="5.5" stroke-linejoin="round" stroke-linecap="round" vector-effect="non-scaling-stroke"/>
<path d="M700 1170 L900 1010" fill="none" stroke="#1a1a1a" stroke-width="2" vector-effect="non-scaling-stroke"/>
<!-- small screw -->
<path d="M1100 575 L1270 655" stroke="#1a1a1a" stroke-width="9.5" stroke-linecap="round" fill="none" vector-effect="non-scaling-stroke"/>
</g>
</g>
<!--G4-->
<g transform="translate(2080 2180) scale(0.28003)">
<path class="n" d="M893 185 L893 430"/>
<path class="kf" d="M135 715 L150 700 L480 525 L495 537 L430 602 L530 545 C545 515 580 485 620 480 C650 478 690 490 720 520 L740 505 L740 440 L745 335 C748 318 755 312 762 318 L1020 580 C1040 605 1052 630 1055 650 L1075 900 L1078 1140 L1065 1160 L590 910 L610 930 L790 1050 C800 1060 800 1068 795 1072 L600 1190 C588 1195 575 1195 565 1190 L345 1050 L330 1010 L150 1110 L135 1100 Z"/>
<path class="k" d="M160 700 L480 530" style="stroke-width:5.5"/>
<path class="n" d="M200 695 L440 565 L480 545"/>
<path class="g" d="M635 520 L635 830"/>
<path class="k" d="M590 910 C570 900 565 885 575 878"/>
<path class="n" d="M370 1030 L545 935 M600 915 L650 915"/>
<path class="k" d="M260 770 L318 736 C326 735 330 742 330 752 L330 890 L272 930 C262 930 258 925 258 915 Z"/>
<circle cx="305" cy="700" r="17" class="b"/><circle cx="305" cy="700" r="6" fill="#999"/>
<circle cx="293" cy="965" r="17" class="b"/><circle cx="293" cy="965" r="6" fill="#999"/>
<path class="d" d="M340 730 L1320 1290"/>
</g>
<g transform="translate(2330 2460) scale(0.28003)">
<path class="n" d="M135 415 L85 455 L85 830 L0 885 L80 920 L80 1330 L125 1375"/>
<path class="n" d="M120 693 L330 693 M240 1190 L510 1190 M330 1305 L570 1305"/>
<path class="d" d="M790 500 L1150 690"/>
<!-- muffler -->
<path class="kf" d="M335 440 C340 410 355 385 370 370 L440 310 C450 285 480 265 530 255 L760 145 C790 132 825 132 850 150 C870 135 900 135 915 147 L935 180 L930 200 L1000 240 C1015 255 1020 270 1020 285 L1020 600 L1010 622 L720 790 L660 830 L590 872 C575 880 560 880 545 875 L440 815 C425 830 410 838 395 828 C365 805 340 775 330 740 Z"/>
<path class="k" d="M375 450 C380 420 395 400 405 390 L470 340 L830 160 C850 150 875 148 890 152 L920 192 M375 450 L370 740 C375 770 390 795 410 808 L440 815"/>
<path class="k" d="M420 470 C430 445 450 430 470 420 L920 195 M420 470 L405 780"/>
<path class="n" d="M440 480 L535 570 L545 600 L545 820 M490 435 L720 410 L975 265 M580 525 L720 440"/>
<path class="g" d="M350 450 L345 735 M395 470 L388 760"/>
<path class="n" d="M445 300 C455 280 490 268 520 272"/>
<path class="k" d="M570 805 L570 625 C575 600 595 580 615 570 L650 545 C670 540 690 545 705 560 L720 585 L720 700 M600 805 L605 640 C615 615 635 600 660 595 C680 595 690 605 692 620 L692 760 M660 830 L650 640"/>
<path class="g" d="M555 600 L555 810 M585 640 L585 800"/>
<ellipse cx="750" cy="470" rx="48" ry="60" transform="rotate(20 750 470)" fill="#fff" stroke="#1a1a1a" stroke-width="6" vector-effect="non-scaling-stroke"/>
<ellipse cx="745" cy="475" rx="24" ry="34" transform="rotate(20 745 475)" class="k"/>
<ellipse cx="765" cy="722" rx="48" ry="56" transform="rotate(30 765 722)" fill="#fff" stroke="#1a1a1a" stroke-width="6" vector-effect="non-scaling-stroke"/>
<ellipse cx="758" cy="728" rx="22" ry="30" transform="rotate(30 758 728)" class="k"/>
<path class="b" d="M650 820 L700 800 L705 840 L670 860 Z"/>
<path class="k" d="M685 760 C670 790 675 830 700 845"/>
<!-- bolt -->
<path d="M1170 712 L1290 775" stroke="#3a3a3a" stroke-width="13" stroke-linecap="round" fill="none" vector-effect="non-scaling-stroke"/>
<path d="M1180 716 L1280 768" stroke="#999" stroke-width="4" stroke-dasharray="2 2.5" fill="none" vector-effect="non-scaling-stroke"/>
<ellipse cx="1322" cy="800" rx="48" ry="54" transform="rotate(-25 1322 800)" class="b"/>
<circle cx="1338" cy="812" r="8" fill="#888"/>
<!-- deflector -->
<path class="d" d="M585 880 L590 1280" style="stroke-dasharray:8 6"/>
<path class="kf" d="M600 1010 C610 980 630 962 650 955 C675 942 695 945 705 965 L705 1200 L600 1265 L560 1270 L515 1215 L510 1195 L575 1160 L600 1170 Z"/>
<ellipse cx="652" cy="1090" rx="34" ry="100" transform="rotate(8 652 1090)" fill="#444"/>
<path d="M630 1030 L680 1010 M625 1070 L685 1048 M625 1110 L685 1088 M628 1150 L680 1130" stroke="#bbb" stroke-width="2" fill="none" vector-effect="non-scaling-stroke"/>
<path class="n" d="M600 1170 L600 1265"/>
<circle cx="575" cy="1205" r="8" class="b"/>
<path d="M590 1275 L590 1340" stroke="#1a1a1a" stroke-width="6" fill="none" vector-effect="non-scaling-stroke"/>
<ellipse cx="588" cy="1355" rx="28" ry="18" class="b"/>
</g>
<!--G5-->
<g transform="translate(1680 2540) scale(0.28003)">
<path class="gl" d="M785 200 L925 200 M365 1075 L600 1075 M1165 1055 L1400 1055"/>
<!-- gray tube -->
<path d="M680 470 L680 640 C680 690 660 720 620 745 L470 832" fill="none" stroke="#bdbdbd" stroke-width="13" stroke-linecap="round" vector-effect="non-scaling-stroke"/>
<path d="M680 470 L680 640 C680 690 660 720 620 745 L470 832" fill="none" stroke="#fff" stroke-width="7.5" stroke-linecap="round" vector-effect="non-scaling-stroke"/>
<path class="d" d="M628 345 L628 860" style="stroke:#777"/>
<!-- bulb -->
<path class="kf" d="M605 175 C600 100 640 55 675 55 C715 55 755 100 748 175 Z"/>
<path class="kf" d="M580 170 C575 200 580 220 588 235 L640 282 L655 285 L660 340 L690 345 L695 288 L720 282 L768 235 C778 215 780 195 775 170 C740 215 620 215 580 170 Z"/>
<path class="n" d="M600 175 C620 215 730 215 752 175 M640 282 C660 270 700 270 720 282"/>
<path class="g" d="M590 215 C630 250 730 250 765 215"/>
<!-- orings -->
<ellipse cx="678" cy="410" rx="33" ry="16" fill="#999" stroke="#1a1a1a" stroke-width="5" vector-effect="non-scaling-stroke"/>
<ellipse cx="628" cy="885" rx="31" ry="15" fill="#999" stroke="#1a1a1a" stroke-width="5" vector-effect="non-scaling-stroke"/>
<ellipse cx="352" cy="902" rx="15" ry="28" transform="rotate(-25 352 902)" fill="#999" stroke="#1a1a1a" stroke-width="5" vector-effect="non-scaling-stroke"/>
<ellipse cx="1200" cy="940" rx="15" ry="28" transform="rotate(-25 1200 940)" fill="#999" stroke="#1a1a1a" stroke-width="5" vector-effect="non-scaling-stroke"/>
<!-- grommet -->
<ellipse cx="1055" cy="1020" rx="98" ry="118" transform="rotate(-15 1055 1020)" class="b"/>
<ellipse cx="1020" cy="1025" rx="76" ry="102" transform="rotate(-15 1020 1025)" class="kf"/>
<path d="M1090 930 L1120 1100 M1110 935 L1135 1090" stroke="#777" stroke-width="1.6" fill="none" vector-effect="non-scaling-stroke"/>
<ellipse cx="988" cy="1020" rx="14" ry="18" class="g"/><ellipse cx="1050" cy="1060" rx="14" ry="18" class="g"/>
<!-- tube 16 -->
<path d="M630 958 L630 1140 C632 1180 660 1200 700 1178 L908 1052" fill="none" stroke="#1a1a1a" stroke-width="13.5" stroke-linecap="round" stroke-linejoin="round" vector-effect="non-scaling-stroke"/>
<path d="M630 960 L630 1140 C632 1180 660 1200 700 1178 L906 1053" fill="none" stroke="#fff" stroke-width="6" stroke-linecap="round" stroke-linejoin="round" vector-effect="non-scaling-stroke"/>
<!-- long tube -->
<path d="M1012 1085 L117 1596" fill="none" stroke="#1a1a1a" stroke-width="11.5" stroke-linecap="round" vector-effect="non-scaling-stroke"/>
<path d="M1010 1086 L119 1595" fill="none" stroke="#fff" stroke-width="4.5" stroke-linecap="round" vector-effect="non-scaling-stroke"/>
<!-- filter -->
<path class="kf" d="M1285 800 L1420 725 C1445 722 1462 732 1472 748 L1500 800 C1505 825 1500 840 1490 850 L1352 930 C1330 935 1312 930 1300 920 L1272 872 C1265 840 1270 815 1285 800 Z"/>
<path class="n" d="M1420 725 C1395 745 1400 800 1440 878 M1380 748 C1360 770 1370 830 1400 900"/>
<path class="g" d="M1330 775 C1315 800 1325 860 1355 925 M1350 765 C1335 790 1345 850 1375 915"/>
<path class="kf" d="M1245 888 L1288 862 L1302 890 L1262 912 Z"/>
</g>
<!--G6-->
<g transform="translate(1930 2940) scale(0.28003)">
<path class="gl" d="M-135 522 L165 522"/>
<!-- tank body -->
<path class="kf" d="M275 355 L200 410 C182 430 172 450 170 470 L165 850 C168 875 178 890 190 900 L520 1110 L580 1140 L690 1165 L720 1160 L800 1320 C810 1350 820 1365 835 1375 C855 1390 875 1388 890 1378 L930 1340 L1000 1350 L1095 1400 L1104 1417 L1304 1517 C1350 1525 1400 1505 1424 1477 L1454 1437 L1454 937 C1450 900 1440 880 1430 870 L1364 777 C1340 750 1310 738 1290 738 L1250 745 L800 490 L770 440 L700 400 L600 385 L560 370 L545 350 Z"/>
<!-- cap -->
<path class="kf" d="M270 200 L268 310 C275 340 330 365 420 368 C500 368 540 355 560 370 L595 385 L598 210 Z"/>
<ellipse cx="432" cy="188" rx="160" ry="78" class="kf"/>
<ellipse cx="425" cy="192" rx="125" ry="55" class="n"/>
<path class="k" d="M270 230 C290 290 400 305 470 295 C540 285 590 255 598 225 M280 300 C320 335 420 345 510 325"/>
<path class="g" d="M272 255 C300 310 420 325 500 310 C550 300 590 280 597 255 M275 275 C300 325 420 340 510 322"/>
<path class="gl" d="M292 350 L292 420 C320 450 480 470 540 460"/>
<path class="n" d="M545 350 L548 450 L580 520 L570 640"/>
<!-- top details -->
<path class="k" d="M570 360 C600 400 680 410 730 430 L790 480 M600 385 C640 395 700 420 740 455"/>
<path class="n" d="M565 440 L1170 760 L1215 830 L1265 845 M610 710 L1095 975 M570 940 C600 930 630 930 650 935 L1060 1170 M220 440 L350 500 M215 465 L340 525 M460 520 L540 475 M395 600 L400 800 M430 600 L430 740 M430 810 L560 705 M170 700 L390 830 M175 730 L395 850 L520 940 L570 940 M545 980 L545 1100 M625 975 L625 1115 M395 850 C385 820 395 790 400 800"/>
<path class="k" d="M1104 977 L1104 1417 M1104 977 C1110 940 1125 910 1140 895 L1220 830"/>
<path class="n" d="M1170 1015 C1250 1050 1340 1050 1400 1010 C1430 985 1445 960 1448 935"/>
<path class="g" d="M1370 1095 L1370 1490"/>
<ellipse cx="280" cy="630" rx="46" ry="70" transform="rotate(-20 280 630)" fill="#fff" stroke="#1a1a1a" stroke-width="5.5" vector-effect="non-scaling-stroke"/>
<path class="n" d="M250 585 C240 630 265 680 300 695"/>
<ellipse cx="698" cy="525" rx="21" ry="27" transform="rotate(-20 698 525)" class="k"/>
<ellipse cx="1065" cy="740" rx="21" ry="27" transform="rotate(-20 1065 740)" class="k"/>
<ellipse cx="853" cy="1318" rx="20" ry="27" transform="rotate(-20 853 1318)" class="k"/>
<path class="n" d="M720 1160 C780 1190 860 1240 900 1300 L930 1340"/>
<!-- screw -->
<path d="M910 395 L1000 348" stroke="#333" stroke-width="11" stroke-linecap="round" fill="none" vector-effect="non-scaling-stroke"/>
<path d="M915 393 L990 353" stroke="#999" stroke-width="3" stroke-dasharray="2 2.5" fill="none" vector-effect="non-scaling-stroke"/>
<ellipse cx="1022" cy="332" rx="42" ry="52" transform="rotate(-28 1022 332)" class="b"/>
<ellipse cx="1005" cy="335" rx="22" ry="30" transform="rotate(-28 1005 335)" fill="#666"/>
</g>
<g transform="translate(1540 3100) scale(0.28003)">
<path class="n" d="M255 595 L495 490 M255 595 L540 750"/>
<!-- cap upper -->
<path class="kf" style="stroke-width:3;stroke:#333" d="M490 410 L485 290 C488 260 495 240 502 230 L560 190 L600 160 C630 150 660 152 680 150 C700 135 735 132 760 150 C790 150 820 155 840 165 C865 175 878 185 882 195 L890 230 C915 245 928 258 932 270 L940 380 C960 410 968 425 970 440 L975 580 C960 600 940 610 920 612 C900 605 890 595 880 590 L820 570 C800 580 775 588 750 590 L650 585 C610 580 580 568 560 555 L510 510 Z"/>
<path class="g" d="M600 390 L600 520 M650 400 L645 530 M730 400 L725 560 M650 400 C670 360 710 360 730 400"/>
<path d="M520 280 C560 230 640 200 700 210 M580 240 L650 280 M680 190 L760 230 M560 330 L600 350 M700 320 L760 380 M780 250 L840 240 M800 330 L860 360 L900 420 M880 480 L840 540 M920 500 L900 560 M640 300 L700 330" fill="none" stroke="#888" stroke-width="2" stroke-dasharray="9 7" vector-effect="non-scaling-stroke"/>
<path class="n" d="M670 185 C690 200 720 205 740 195 M590 235 C610 255 640 265 660 260"/>
<!-- cap lower -->
<path class="kf" d="M600 845 L622 890 C650 910 680 917 700 916 C730 916 760 905 780 890 L800 845 Z"/>
<path class="g" d="M625 865 C660 885 740 885 775 865"/>
<path class="b" d="M540 755 L540 790 C560 835 640 860 700 858 C770 858 850 830 862 790 L862 755 Z"/>
<ellipse cx="700" cy="755" rx="160" ry="95" class="kf"/>
<ellipse cx="700" cy="750" rx="30" ry="18" class="g"/>
</g>
<g transform="translate(1900 3260) scale(0.18668)">
<path class="gl" d="M385 383 L760 383 M390 770 L865 770"/>
<path class="kf" d="M760 400 C765 370 775 350 790 340 L920 255 C940 246 955 246 970 250 L1160 360 C1175 375 1180 385 1180 400 L1170 540 C1150 565 1130 575 1110 576 C1090 575 1070 568 1060 560 L1010 480 L990 450 L860 485 L830 470 L850 430 L820 420 L780 440 C765 430 758 415 760 400 Z" style="stroke-width:3.8"/>
<path class="n" d="M1120 370 L1010 455 M1010 455 L1030 470 C1060 440 1100 400 1140 390"/>
<ellipse cx="930" cy="378" rx="34" ry="15" fill="#666" stroke="#1a1a1a" stroke-width="2" vector-effect="non-scaling-stroke"/>
<path d="M1070 455 L1095 505" stroke="#555" stroke-width="4" fill="none" stroke-linecap="round" vector-effect="non-scaling-stroke"/>
<!-- screw 12 -->
<path d="M898 600 C900 585 960 585 965 600 L965 760 L898 760 Z" fill="#bbb" stroke="#1a1a1a" stroke-width="3.6" vector-effect="non-scaling-stroke"/>
<path d="M905 640 L958 640 M905 670 L958 670 M905 700 L958 700 M905 730 L958 730" stroke="#777" stroke-width="1.5" fill="none" vector-effect="non-scaling-stroke"/>
<path class="b" d="M865 760 C870 735 895 725 900 740 L965 740 C990 730 1005 745 1005 770 C1005 805 970 825 935 825 C895 825 862 800 865 760 Z"/>
<path d="M905 745 L905 800 M930 745 L930 805 M955 745 L955 800" stroke="#888" stroke-width="2" fill="none" vector-effect="non-scaling-stroke"/>
</g>
<!--G7-->
<!--LABELS-->
<g class="lb">
<text x="414.0" y="1283.0" textLength="42.2" lengthAdjust="spacingAndGlyphs">21</text>
<text x="742.6" y="1482.4" textLength="42.2" lengthAdjust="spacingAndGlyphs">20</text>
<text x="1272.6" y="1702.4" textLength="42.2" lengthAdjust="spacingAndGlyphs">22</text>
<text x="1428.0" y="1685.6" textLength="42.2" lengthAdjust="spacingAndGlyphs">24</text>
<text x="1459.0" y="2284.8" textLength="42.2" lengthAdjust="spacingAndGlyphs">23</text>
<text x="1713.6" y="1678.2" textLength="21.1" lengthAdjust="spacingAndGlyphs">3</text>
<text x="1814.0" y="1526.4" textLength="21.1" lengthAdjust="spacingAndGlyphs">6</text>
<text x="1813.0" y="1646.0" textLength="21.1" lengthAdjust="spacingAndGlyphs">4</text>
<text x="1815.8" y="1735.6" textLength="21.1" lengthAdjust="spacingAndGlyphs">7</text>
<text x="1814.4" y="1808.4" textLength="21.1" lengthAdjust="spacingAndGlyphs">2</text>
<text x="1814.5" y="1949.2" textLength="21.1" lengthAdjust="spacingAndGlyphs">1</text>
<text x="1815.0" y="2010.2" textLength="21.1" lengthAdjust="spacingAndGlyphs">5</text>
<text x="306.7" y="1654.8" textLength="42.2" lengthAdjust="spacingAndGlyphs">19</text>
<text x="407.5" y="1683.9" textLength="42.2" lengthAdjust="spacingAndGlyphs">18</text>
<text x="583.9" y="1808.8" textLength="42.2" lengthAdjust="spacingAndGlyphs">17</text>
<text x="736.6" y="1940.4" textLength="42.2" lengthAdjust="spacingAndGlyphs">25</text>
<text x="2307.2" y="2226.0" textLength="42.2" lengthAdjust="spacingAndGlyphs">26</text>
<text x="2281.8" y="2710.8" textLength="42.2" lengthAdjust="spacingAndGlyphs">27</text>
<text x="2375.2" y="2836.4" textLength="42.2" lengthAdjust="spacingAndGlyphs">28</text>
<text x="1946.3" y="2605.6" textLength="42.2" lengthAdjust="spacingAndGlyphs">10</text>
<text x="1737.7" y="2847.8" textLength="42.2" lengthAdjust="spacingAndGlyphs">16</text>
<text x="2075.1" y="2847.8" textLength="42.2" lengthAdjust="spacingAndGlyphs">13</text>
<text x="1847.5" y="3100.2" textLength="42.2" lengthAdjust="spacingAndGlyphs">11</text>
<text x="1561.3" y="3273.4" textLength="42.2" lengthAdjust="spacingAndGlyphs">15</text>
<text x="1946.6" y="3339.6" textLength="21.1" lengthAdjust="spacingAndGlyphs">9</text>
<text x="1925.5" y="3420.8" textLength="42.2" lengthAdjust="spacingAndGlyphs">12</text>
</g>
</svg>
</body></html>
